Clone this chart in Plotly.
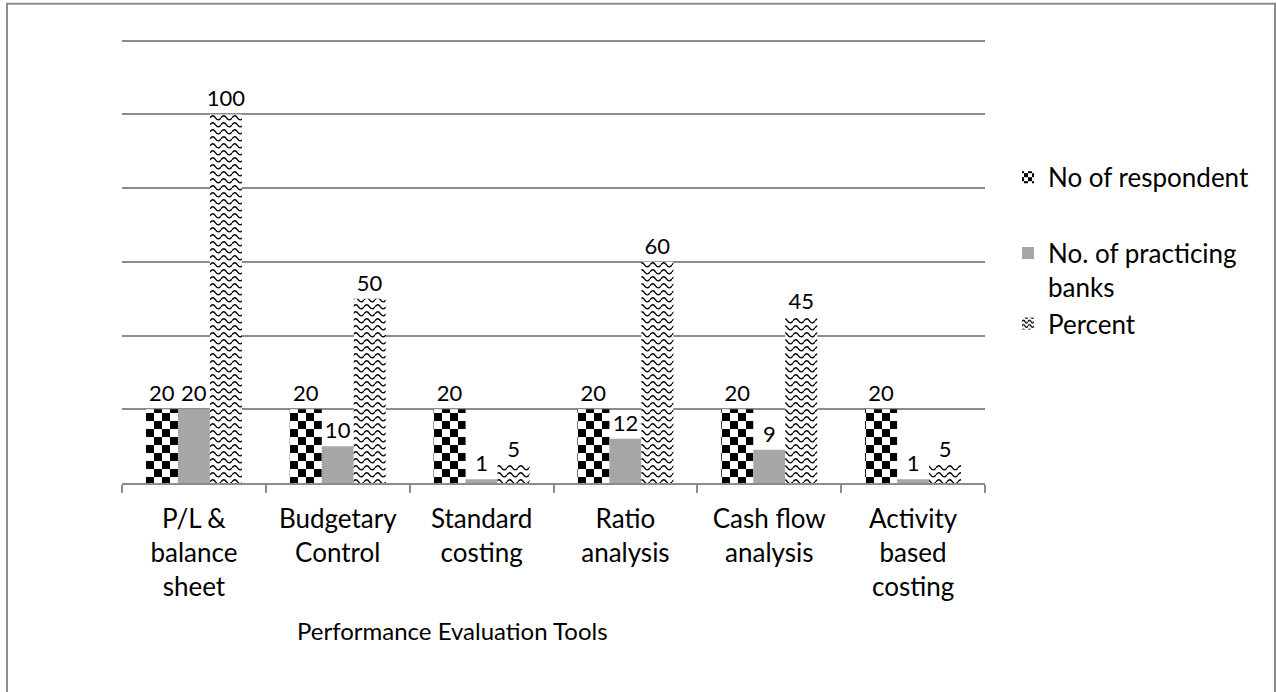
import plotly.graph_objects as go

categories = ["P/L &<br>balance<br>sheet", "Budgetary<br>Control", "Standard<br>costing",
              "Ratio<br>analysis", "Cash flow<br>analysis", "Activity<br>based<br>costing"]
respondents = [20, 20, 20, 20, 20, 20]
practicing = [20, 10, 1, 12, 9, 1]
percent = [100, 50, 5, 60, 45, 5]

FONT = "Lato"
GRID = "#8c8c8c"
W, H = 1276, 692
# plot area: y=0 at 483px, y=120 at 41px
Y0_PX, Y120_PX = 483, 41
Y_TOP = 121
SCALE = (Y0_PX - Y120_PX) / 120
L, R, B = 122, 291, H - Y0_PX
T = Y0_PX - Y_TOP * SCALE
PW, PH = W - L - R, H - T - B


def px_x(x):
    return (x - L) / PW


def px_y(y):
    return (H - B - y) / PH


fig = go.Figure()
series = [
    ("No of respondent", respondents, "#000000", "x", "a"),
    ("No. of practicing<br>banks", practicing, "#a6a6a6", "", "b"),
    ("Percent", percent, "#000000", "-", "b"),
]
for name, vals, col, shape, grp in series:
    fig.add_trace(go.Bar(
        name=name, x=categories, y=vals,
        text=vals, textposition="outside", cliponaxis=False,
        constraintext="none",
        textfont=dict(family=FONT, size=22, color="#000"),
        marker=dict(color=col if not shape else "#fff", line=dict(width=0),
                    pattern=dict(shape=shape, fgcolor="#000", bgcolor="#fff") if shape else None),
        legendgroup=grp,
    ))

fig.update_layout(
    width=W, height=H,
    margin=dict(l=L, r=R, t=T, b=B, autoexpand=False),
    plot_bgcolor="#fff", paper_bgcolor="#fff",
    font=dict(family=FONT, size=26, color="#000"),
    barmode="group", bargap=0.333, bargroupgap=0,
    showlegend=True,
    legend=dict(x=px_x(1008), xanchor="left", y=px_y(154), yanchor="top",
                tracegroupgap=39, valign="top", font=dict(family=FONT, size=26),
                bgcolor="rgba(0,0,0,0)"),
    xaxis=dict(showline=True, linecolor=GRID, linewidth=2, ticks="outside",
               tickson="boundaries", ticklen=8, tickwidth=2, tickcolor=GRID,
               ticklabelstandoff=12,
               showgrid=False, tickfont=dict(family=FONT, size=26)),
    yaxis=dict(range=[0, Y_TOP], dtick=20, showticklabels=False, showgrid=True,
               gridcolor=GRID, gridwidth=2, zeroline=False, showline=False),
    annotations=[dict(text="Performance Evaluation Tools", xref="paper", yref="paper",
                      x=px_x(452), y=px_y(630), xanchor="center", yanchor="middle",
                      showarrow=False, font=dict(family=FONT, size=24))],
    shapes=[dict(type="rect", xref="paper", yref="paper",
                 x0=px_x(7), x1=px_x(1275), y0=px_y(720), y1=px_y(4),
                 line=dict(color=GRID, width=2), fillcolor="rgba(0,0,0,0)")],
)

patterns_js = """
document.body.style.margin = '0';
var gd = document.getElementById('{plot_id}');
var NS = 'http://www.w3.org/2000/svg';
function mk(tag, attrs, parent) {
  var e = document.createElementNS(NS, tag);
  for (var k in attrs) { e.setAttribute(k, attrs[k]); }
  if (parent) { parent.appendChild(e); }
  return e;
}
function checker(defs, id, c) {
  var p = mk('pattern', {id: id, patternUnits: 'userSpaceOnUse', width: 2 * c, height: 2 * c}, defs);
  mk('rect', {x: 0, y: 0, width: 2 * c, height: 2 * c, fill: '#fff'}, p);
  mk('rect', {x: 0, y: 0, width: c, height: c, fill: '#000'}, p);
  mk('rect', {x: c, y: c, width: c, height: c, fill: '#000'}, p);
}
function wave(defs, id, w, h) {
  var p = mk('pattern', {id: id, patternUnits: 'userSpaceOnUse', width: w, height: h}, defs);
  mk('rect', {x: 0, y: 0, width: w, height: h, fill: '#fff'}, p);
  var m = h * 0.55, a = h * 0.4;
  var d = 'M0,' + m + ' C' + (w * 0.17) + ',' + (m - a) + ' ' + (w * 0.33) + ',' + (m - a) + ' ' + (w / 2) + ',' + m +
          ' C' + (w * 0.67) + ',' + (m + a) + ' ' + (w * 0.83) + ',' + (m + a) + ' ' + w + ',' + m;
  mk('path', {d: d, fill: 'none', stroke: '#000', 'stroke-width': 1.3}, p);
}
function applyPatterns() {
  var svg = gd.querySelector('svg.main-svg');
  if (!document.getElementById('chkpat')) {
    var defs = svg.querySelector('defs') || mk('defs', {}, svg);
    checker(defs, 'chkpat', 8);
    checker(defs, 'chkpat_s', 4);
    wave(defs, 'wavepat', 11, 7);
    wave(defs, 'wavepat_s', 6, 4.5);
  }
  var big = ['url(#chkpat)', null, 'url(#wavepat)'];
  var small = ['url(#chkpat_s)', null, 'url(#wavepat_s)'];
  gd.querySelectorAll('.barlayer .trace').forEach(function (t, i) {
    if (big[i]) { t.querySelectorAll('path').forEach(function (p) { p.style.fill = big[i]; }); }
  });
  gd.querySelectorAll('.legend .traces').forEach(function (t, i) {
    if (small[i]) { t.querySelectorAll('.legendpoints path').forEach(function (p) { p.style.fill = small[i]; }); }
  });
}
applyPatterns();
gd.on('plotly_afterplot', applyPatterns);
"""

fig.write_html("out.html", post_script=patterns_js, config={"displayModeBar": False})
